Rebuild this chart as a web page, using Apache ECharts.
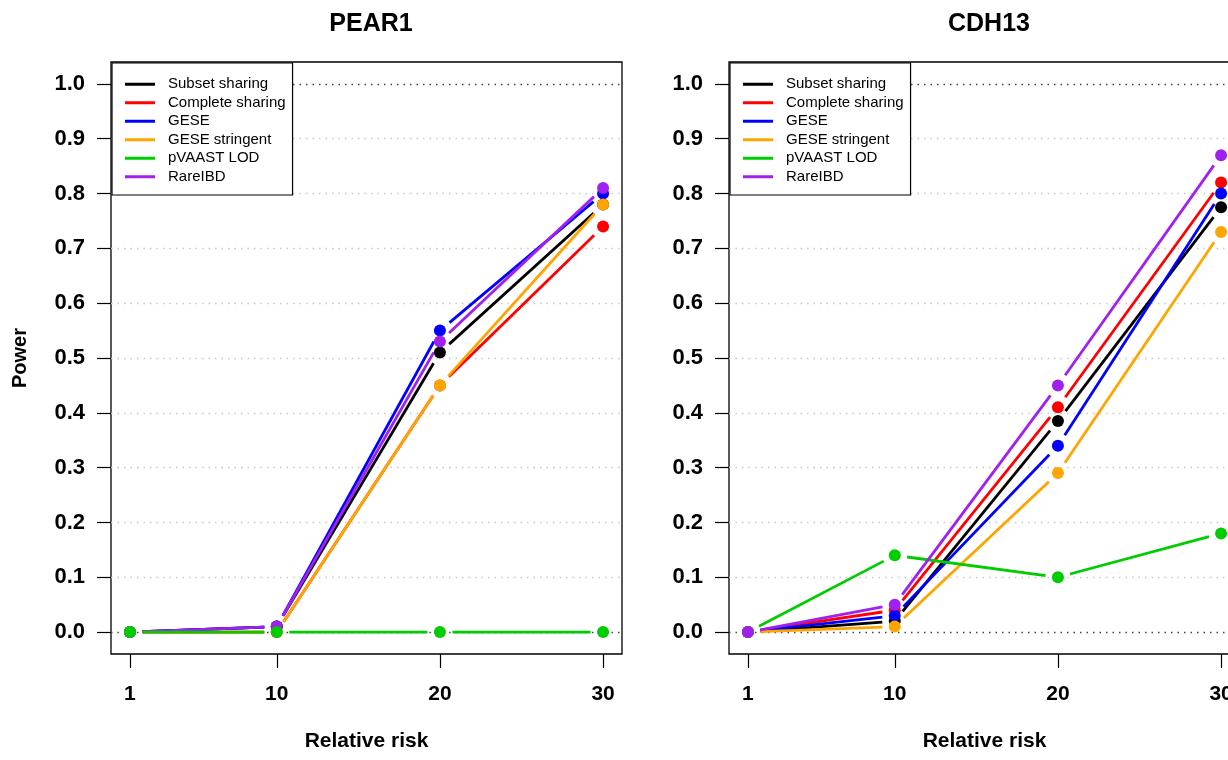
<!DOCTYPE html>
<html>
<head>
<meta charset="utf-8">
<script src="https://cdn.jsdelivr.net/npm/echarts@6/dist/echarts.min.js"></script>
<style>
  html, body { margin: 0; padding: 0; background: #fff; }
  #chart { width: 1228px; height: 760px; }
</style>
</head>
<body>
<div id="chart"></div>
<script>
// relative risk values on the x axis
const xValues = [1, 10, 20, 30]
const yTicks = [0, 0.1, 0.2, 0.3, 0.4, 0.5, 0.6, 0.7, 0.8, 0.9, 1.0]
const methods = ['Subset sharing', 'Complete sharing', 'GESE', 'GESE stringent', 'pVAAST LOD', 'RareIBD']

// PEAR1 power
const pear1Subset = [0, 0.01, 0.51, 0.78]
const pear1Complete = [0, 0.0, 0.45, 0.74]
const pear1Gese = [0, 0.01, 0.55, 0.80]
const pear1GeseStringent = [0, 0.0, 0.45, 0.78]
const pear1Pvaast = [0, 0, 0, 0]
const pear1RareIBD = [0, 0.01, 0.53, 0.81]

// CDH13 power
const cdh13Subset = [0, 0.02, 0.385, 0.775]
const cdh13Complete = [0, 0.04, 0.41, 0.82]
const cdh13Gese = [0, 0.03, 0.34, 0.80]
const cdh13GeseStringent = [0, 0.01, 0.29, 0.73]
const cdh13Pvaast = [0, 0.14, 0.10, 0.18]
const cdh13RareIBD = [0, 0.05, 0.45, 0.87]

const colors = ['#000000', '#ff0000', '#0000ff', '#ffa500', '#00cd00', '#a020f0']
const font = "'Liberation Sans', Arial, Helvetica, sans-serif"
const gap = 12.5

const panels = [
  { title: 'PEAR1', values: [pear1Subset, pear1Complete, pear1Gese, pear1GeseStringent, pear1Pvaast, pear1RareIBD], order: [0, 1, 2, 3, 5, 4] },
  { title: 'CDH13', values: [cdh13Subset, cdh13Complete, cdh13Gese, cdh13GeseStringent, cdh13Pvaast, cdh13RareIBD], order: [0, 1, 2, 3, 4, 5] }
]
const gridLefts = [111, 729]

// line segments between points, with a gap around each point (like R type = "b")
function segmentSeries(name, color, values, idx) {
  const data = []
  for (let i = 1; i < values.length; i++) {
    data.push([xValues[i - 1], values[i - 1], xValues[i], values[i]])
  }
  return {
    type: 'custom',
    name: name,
    xAxisIndex: idx,
    yAxisIndex: idx,
    z: 2,
    silent: true,
    itemStyle: { color: color },
    encode: { x: [0, 2], y: [1, 3] },
    data: data,
    renderItem: function(params, api) {
      const a = api.coord([api.value(0), api.value(1)])
      const b = api.coord([api.value(2), api.value(3)])
      const dx = b[0] - a[0]
      const dy = b[1] - a[1]
      const len = Math.sqrt(dx * dx + dy * dy)
      if (len <= 2 * gap) return null
      const ux = dx / len
      const uy = dy / len
      return {
        type: 'line',
        shape: { x1: a[0] + ux * gap, y1: a[1] + uy * gap, x2: b[0] - ux * gap, y2: b[1] - uy * gap },
        style: { stroke: color, lineWidth: 2.8, lineCap: 'butt' }
      }
    }
  }
}

function pointSeries(name, color, values, idx) {
  return {
    type: 'scatter',
    name: name,
    xAxisIndex: idx,
    yAxisIndex: idx,
    z: 3,
    symbol: 'circle',
    symbolSize: 12,
    itemStyle: { color: color, opacity: 1 },
    emphasis: { disabled: true },
    data: xValues.map(function(x, i) { return [x, values[i]] })
  }
}

const series = []
panels.forEach(function(p, idx) {
  series.push({
    type: 'line',
    xAxisIndex: idx,
    yAxisIndex: idx,
    data: [],
    z: 1,
    silent: true,
    markLine: {
      z: 1,
      silent: true,
      symbol: ['none', 'none'],
      label: { show: false },
      data: yTicks.map(function(v) {
        const edge = v === 0 || v === 1
        return { yAxis: v, lineStyle: { color: edge ? '#444' : '#c8c8c8', type: [1.5, 5], width: 1.3 } }
      })
    }
  })
  p.order.forEach(function(k) {
    series.push(segmentSeries(methods[k], colors[k], p.values[k], idx))
  })
  p.order.forEach(function(k) {
    series.push(pointSeries(methods[k], colors[k], p.values[k], idx))
  })
})

const labelStyle = { fontFamily: font, fontSize: 21, fontWeight: 'bold', color: '#000' }

const option = {
  animation: false,
  title: panels.map(function(p, idx) {
    return {
      text: p.title,
      left: gridLefts[idx] + 255,
      top: 7,
      textAlign: 'center',
      textStyle: { fontFamily: font, fontSize: 25, fontWeight: 'bold', color: '#000' }
    }
  }),
  legend: gridLefts.map(function(left) {
    return {
      z: 10,
      left: left + 1,
      top: 63,
      orient: 'vertical',
      selectedMode: false,
      data: methods.map(function(m, k) {
        return { name: m, icon: 'rect', itemStyle: { color: colors[k] } }
      }),
      itemWidth: 30,
      itemHeight: 3,
      itemGap: 0,
      padding: [12, 7, 9, 13],
      borderColor: '#000',
      borderWidth: 1.2,
      borderRadius: 0,
      backgroundColor: '#fff',
      textStyle: { fontFamily: font, fontSize: 15, color: '#000', lineHeight: 18.5, padding: [0, 0, 0, 8] }
    }
  }),
  grid: gridLefts.map(function(left) {
    return {
      left: left, top: 62, width: 511, height: 592,
      outerBoundsMode: 'none',
      show: true, borderColor: '#000', borderWidth: 1.3
    }
  }),
  xAxis: gridLefts.map(function(left, idx) {
    return {
      type: 'value',
      gridIndex: idx,
      min: -0.16,
      max: 31.16,
      splitLine: { show: false },
      axisLine: { show: false, onZero: false },
      axisTick: { show: true, length: 14, customValues: xValues, lineStyle: { color: '#000', width: 1.2 } },
      axisLabel: Object.assign({ customValues: xValues, margin: 30 }, labelStyle),
      name: 'Relative risk',
      nameLocation: 'middle',
      nameGap: 77,
      nameTextStyle: { fontFamily: font, fontSize: 21, fontWeight: 'bold', color: '#000' }
    }
  }),
  yAxis: gridLefts.map(function(left, idx) {
    return {
      type: 'value',
      gridIndex: idx,
      min: -0.04,
      max: 1.04,
      splitLine: { show: false },
      axisLine: { show: false, onZero: false },
      axisTick: { show: true, length: 14, customValues: yTicks, lineStyle: { color: '#000', width: 1.2 } },
      axisLabel: Object.assign({
        customValues: yTicks,
        margin: 26,
        formatter: function(v) { return v.toFixed(1) }
      }, labelStyle, { fontSize: 22 }),
      name: idx === 0 ? 'Power' : '',
      nameLocation: 'middle',
      nameGap: 81,
      nameTextStyle: { fontFamily: font, fontSize: 20, fontWeight: 'bold', color: '#000' }
    }
  }),
  series: series
}

const chart = echarts.init(document.getElementById('chart'))
chart.setOption(option)
</script>
</body>
</html>
